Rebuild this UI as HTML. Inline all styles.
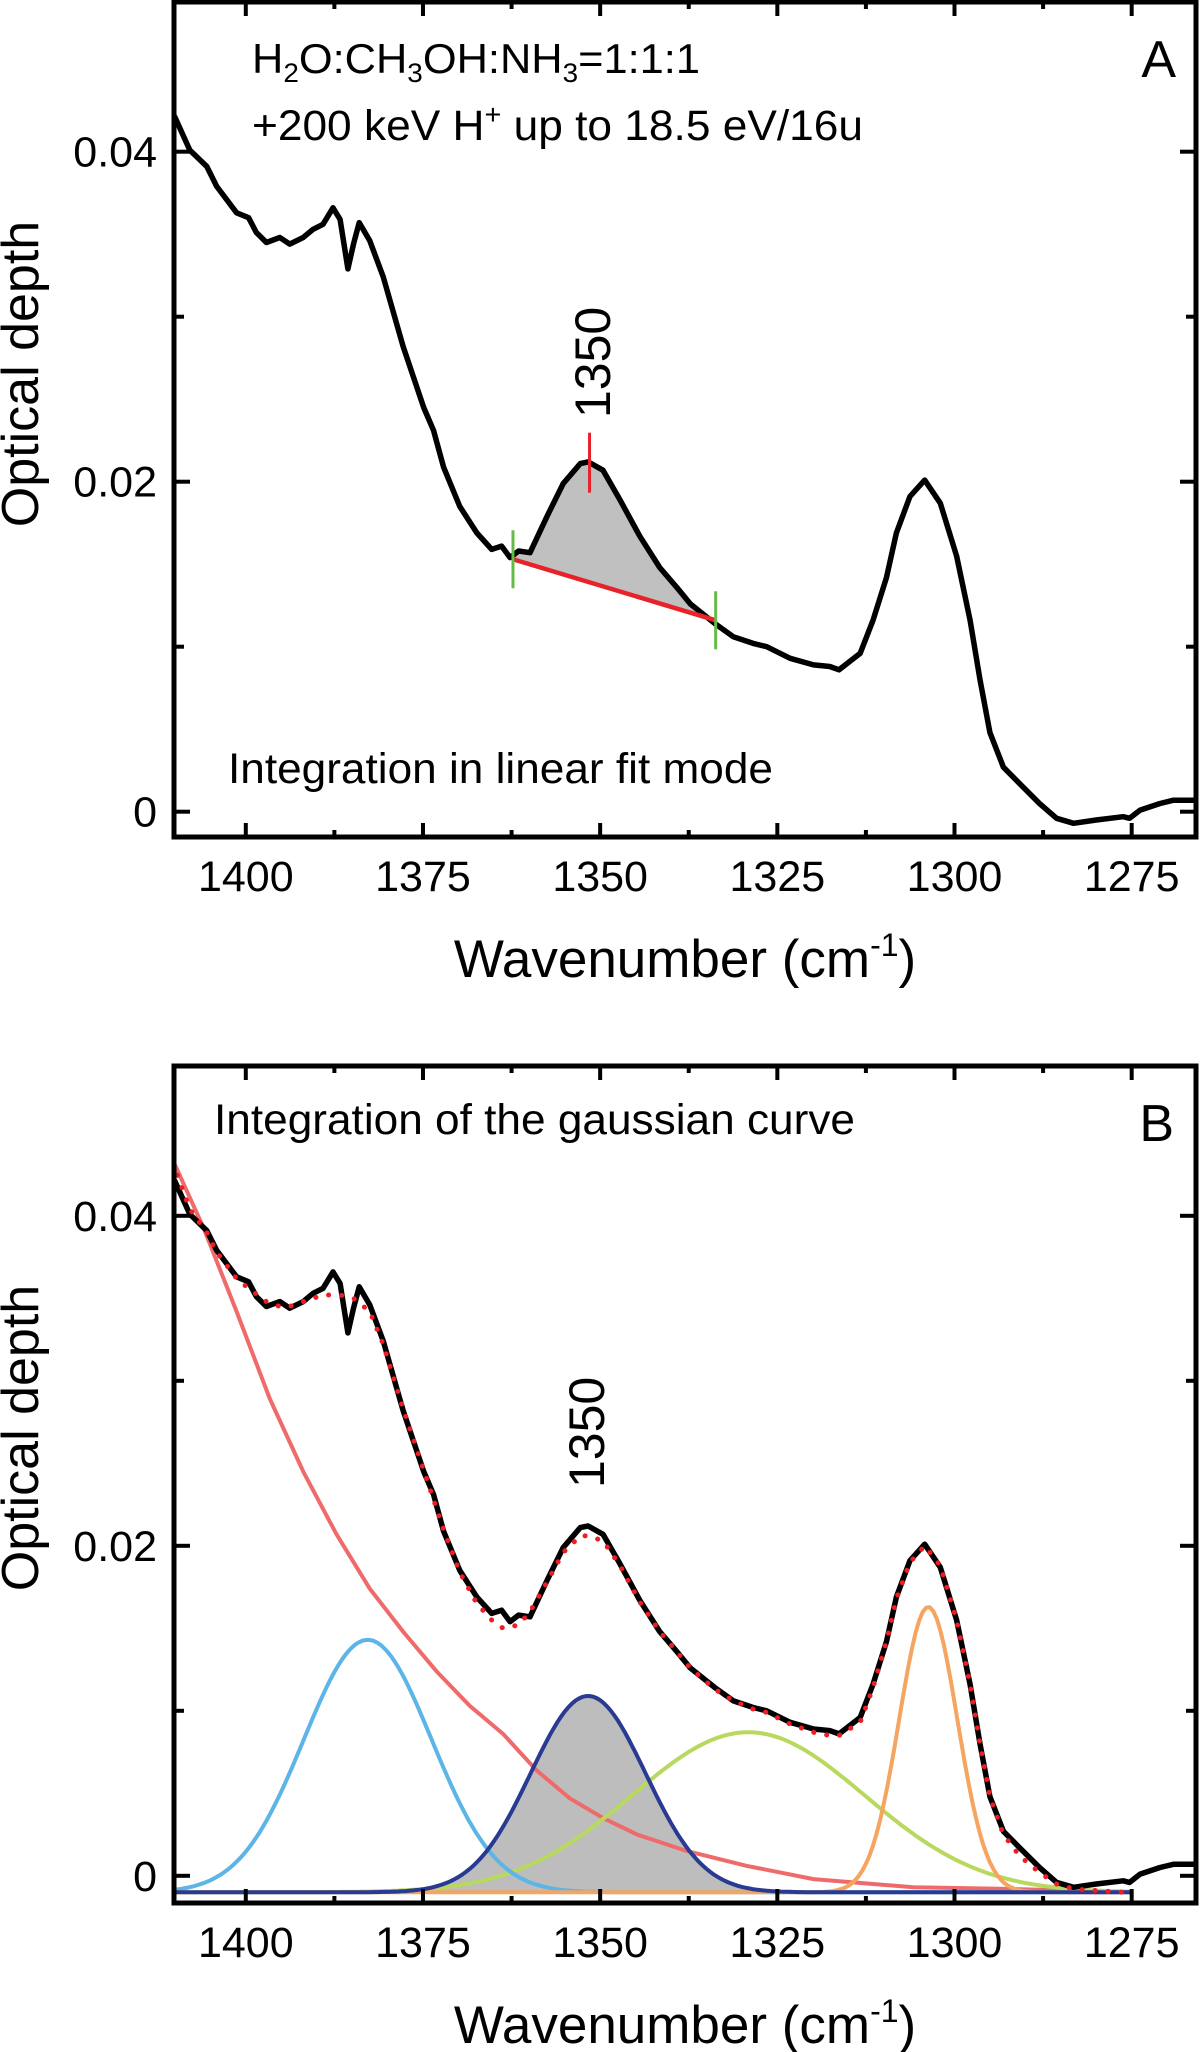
<!DOCTYPE html>
<html><head><meta charset="utf-8"><style>
html,body{margin:0;padding:0;background:#fff;}
svg{display:block;font-family:"Liberation Sans",Arial,sans-serif;}
</style></head><body>
<svg id="fig" width="1200" height="2052" viewBox="0 0 1200 2052" xmlns="http://www.w3.org/2000/svg">
<defs>
<clipPath id="clipA"><rect x="174" y="2" width="1022" height="835"/></clipPath>
<clipPath id="clipB"><rect x="174" y="1066" width="1022" height="837"/></clipPath>
</defs>
<g id="panelA"></g>
<g id="panelB"></g>
</svg>
<script>
// ---- data ----
const spectrumWn = [1410.3,1410.0,1407.9,1405.5,1404.1,1401.3,1399.6,1398.5,1397.1,1395.2,1393.8,1391.9,1390.5,1389.1,1387.7,1386.7,1385.6,1384.8,1384.0,1382.5,1380.6,1377.8,1374.9,1373.5,1372.1,1369.8,1367.4,1365.3,1363.9,1362.7,1361.5,1359.9,1357.5,1355.2,1352.8,1351.7,1349.6,1347.2,1344.4,1341.6,1339.2,1337.3,1333.8,1331.2,1328.4,1326.5,1323.2,1319.9,1317.6,1316.3,1313.3,1311.5,1309.6,1308.2,1306.3,1304.2,1302.0,1299.7,1297.8,1296.4,1295.0,1293.1,1290.8,1288.0,1285.6,1283.2,1280.0,1276.2,1275.3,1273.8,1271.0,1269.1,1266.3,1265.6];
const spectrumOD = [0.0423,0.0421,0.0401,0.0391,0.0379,0.0363,0.0360,0.0351,0.0345,0.0348,0.0344,0.0348,0.0353,0.0356,0.0366,0.0359,0.0329,0.0344,0.0357,0.0346,0.0324,0.0282,0.0245,0.0231,0.0209,0.0185,0.0169,0.0159,0.0161,0.0154,0.0158,0.0157,0.0179,0.0199,0.0211,0.0212,0.0207,0.0189,0.0167,0.0148,0.0136,0.0126,0.0114,0.0106,0.0102,0.0100,0.0093,0.0089,0.0088,0.0086,0.0096,0.0116,0.0142,0.0169,0.0191,0.0201,0.0187,0.0155,0.0116,0.0080,0.0048,0.0027,0.0017,0.0005,-0.0004,-0.0007,-0.0005,-0.0003,-0.0004,0.0001,0.0005,0.0007,0.0007,0.0007];
const fitWn = [1410.3,1407.9,1405.5,1404.1,1401.3,1399.6,1397.1,1395.2,1393.8,1391.9,1389.1,1386.7,1384.8,1382.5,1380.6,1377.8,1374.9,1372.1,1369.8,1367.4,1365.3,1363.7,1361.5,1359.9,1357.5,1355.2,1352.8,1351.7,1349.6,1347.2,1344.4,1341.6,1339.2,1337.3,1333.8,1331.2,1328.4,1326.5,1323.2,1319.9,1317.6,1316.3,1313.3,1311.5,1309.6,1308.2,1306.3,1304.2,1302.0,1299.7,1297.8,1296.4,1295.0,1293.1,1290.8,1288.0,1285.6,1283.2,1280.0,1276.2,1275.0];
const fitOD = [0.0432,0.0404,0.0390,0.0378,0.0362,0.0356,0.0348,0.0345,0.0345,0.0348,0.0352,0.0352,0.0350,0.0342,0.0322,0.0283,0.0246,0.0210,0.0184,0.0165,0.0155,0.0150,0.0152,0.0160,0.0178,0.0196,0.0206,0.0206,0.0203,0.0188,0.0166,0.0148,0.0136,0.0126,0.0113,0.0106,0.0101,0.0099,0.0092,0.0087,0.0085,0.0085,0.0093,0.0114,0.0142,0.0168,0.0190,0.0200,0.0188,0.0155,0.0116,0.0080,0.0048,0.0025,0.0012,0.0002,-0.0005,-0.0008,-0.0009,-0.0010,-0.0010];
const baselineWn = [1410.0,1406.0,1401.3,1396.6,1391.9,1387.2,1382.5,1377.8,1373.1,1368.4,1363.7,1359.0,1354.3,1349.6,1344.8,1337.8,1329.3,1319.9,1305.8,1291.7,1274.8];
const baselineOD = [0.0431,0.0393,0.0342,0.0289,0.0245,0.0207,0.0174,0.0148,0.0124,0.0103,0.0086,0.0064,0.0047,0.0035,0.0025,0.0015,0.0006,-0.0002,-0.0007,-0.0008,-0.0010];
const gaussCenters = [1382.8,1351.7,1329.1,1303.7];
const gaussHeights = [0.0153,0.0119,0.0097,0.0173];
const gaussSigmas = [9.0,8.1,16.4,4.1];
const gaussColors = ["#5cb5e6","#283a92","#b8d95e","#f5a560"];
const gaussNames = ["gaussian-1383","gaussian-1350","gaussian-1329","gaussian-1304"];
const gaussOffset = -0.001;
const linearFitWn = [1362.3,1333.7];
const linearFitOD = [0.0153,0.0116];
const peakMarkWn = 1351.5;
const xTicks = [1400,1375,1350,1325,1300,1275];
const xMinor = [1387.5,1362.5,1337.5,1312.5,1287.5];
const yTicks = [0,0.02,0.04];
const yTickLabels = ["0","0.02","0.04"];
const yMinor = [0.01,0.03];

// ---- axes ----
const NS="http://www.w3.org/2000/svg";
const X0=174,X1=1196;
function xs(w){return 245.8+(1400-w)*7.087;}
function mk(parent,tag,attrs){const e=document.createElementNS(NS,tag);for(const k in attrs)e.setAttribute(k,attrs[k]);parent.appendChild(e);return e;}
function interp(wArr,vArr,w){for(let i=0;i<wArr.length-1;i++){if(w<=wArr[i]&&w>=wArr[i+1]){const t=(wArr[i]-w)/(wArr[i]-wArr[i+1]);return vArr[i]+t*(vArr[i+1]-vArr[i]);}}return w>wArr[0]?vArr[0]:vArr[vArr.length-1];}
function gauss(i,w){return gaussHeights[i]*Math.exp(-Math.pow(w-gaussCenters[i],2)/(2*gaussSigmas[i]*gaussSigmas[i]));}

function drawAxes(g,top,bot,zeroY){
  const ys=v=>zeroY-v*16500;
  xTicks.forEach((t,i)=>{
    let l=mk(g,'line',{x1:xs(t),x2:xs(t),y1:bot,y2:bot-14,stroke:'#000','stroke-width':4});
    
    l=mk(g,'line',{x1:xs(t),x2:xs(t),y1:top,y2:top+14,stroke:'#000','stroke-width':4});
    
    const tx=mk(g,'text',{x:xs(t),y:bot+54,'font-size':43,'text-anchor':'middle'});
    tx.textContent=t;
    
  });
  xMinor.forEach(t=>{
    let l=mk(g,'line',{x1:xs(t),x2:xs(t),y1:bot,y2:bot-7,stroke:'#000','stroke-width':4});
    
    l=mk(g,'line',{x1:xs(t),x2:xs(t),y1:top,y2:top+7,stroke:'#000','stroke-width':4});
    
  });
  yTicks.forEach((t,i)=>{
    let l=mk(g,'line',{x1:X0,x2:X0+16,y1:ys(t),y2:ys(t),stroke:'#000','stroke-width':4});
    
    l=mk(g,'line',{x1:X1,x2:X1-16,y1:ys(t),y2:ys(t),stroke:'#000','stroke-width':4});
    
    const tx=mk(g,'text',{x:157,y:ys(t)+15,'font-size':43,'text-anchor':'end'});
    tx.textContent=yTickLabels[i];
    
  });
  yMinor.forEach(t=>{
    let l=mk(g,'line',{x1:X0,x2:X0+10,y1:ys(t),y2:ys(t),stroke:'#000','stroke-width':4});
    
    l=mk(g,'line',{x1:X1,x2:X1-10,y1:ys(t),y2:ys(t),stroke:'#000','stroke-width':4});
    
  });
  const fr=mk(g,'rect',{x:X0,y:top,width:X1-X0,height:bot-top,fill:'none',stroke:'#000','stroke-width':5});
  
  const xl=mk(g,'text',{x:685,y:bot+140,'font-size':53,'text-anchor':'middle'});
  xl.innerHTML='Wavenumber (cm<tspan dy="-21" font-size="32">-1</tspan><tspan dy="21">)</tspan>';
  
  const cy=top+372;
  const yl=mk(g,'text',{x:0,y:0,'font-size':52,'text-anchor':'middle',transform:`translate(38,${cy}) rotate(-90)`});
  yl.textContent='Optical depth';
  
  return ys;
}
function pathFrom(ws,vs,ys){return ws.map((w,i)=>(i?'L':'M')+xs(w).toFixed(1)+','+ys(vs[i]).toFixed(1)).join(' ');}

// ---- Panel A ----
(function(){
  const g=document.getElementById('panelA');
  const top=2,bot=837,zeroY=811.7;
  const ys=v=>zeroY-v*16500;
  const pg=mk(g,'g',{'clip-path':'url(#clipA)'});
  
  let pts=[];
  const w0=linearFitWn[0],w1=linearFitWn[1];
  pts.push([w0,interp(spectrumWn,spectrumOD,w0)]);
  spectrumWn.forEach((w,i)=>{if(w<w0&&w>w1)pts.push([w,spectrumOD[i]]);});
  pts.push([w1,interp(spectrumWn,spectrumOD,w1)]);
  let d=pts.map((p,i)=>(i?'L':'M')+xs(p[0])+','+ys(p[1])).join(' ')+` L${xs(w1)},${ys(linearFitOD[1])} L${xs(w0)},${ys(linearFitOD[0])} Z`;
  const fill=mk(pg,'path',{d:d,fill:'#c0c0c0'});
  
  const curve=mk(pg,'path',{d:pathFrom(spectrumWn,spectrumOD,ys),fill:'none',stroke:'#000','stroke-width':5.5,'stroke-linejoin':'round'});
  
  const lf=mk(pg,'line',{x1:xs(w0),y1:ys(linearFitOD[0]),x2:xs(w1),y2:ys(linearFitOD[1]),stroke:'#e8222a','stroke-width':4.5});
  
  linearFitWn.forEach((w,i)=>{
    const l=mk(pg,'line',{x1:xs(w),x2:xs(w),y1:ys(linearFitOD[i])-29,y2:ys(linearFitOD[i])+29,stroke:'#66bb44','stroke-width':3});
    
  });
  const pk=interp(spectrumWn,spectrumOD,peakMarkWn);
  const pm=mk(pg,'line',{x1:xs(peakMarkWn),x2:xs(peakMarkWn),y1:ys(pk)-30,y2:ys(pk)+30,stroke:'#e8222a','stroke-width':3});
  
  const pl=mk(g,'text',{x:0,y:0,'font-size':50,transform:`translate(610,418) rotate(-90)`});
  pl.textContent='1350';
  
  drawAxes(g,top,bot,zeroY);
  const t1=mk(g,'text',{x:252,y:73,'font-size':42,textLength:448,lengthAdjust:'spacingAndGlyphs'});
  t1.innerHTML='H<tspan dy="9" font-size="27">2</tspan><tspan dy="-9">O:CH</tspan><tspan dy="9" font-size="27">3</tspan><tspan dy="-9">OH:NH</tspan><tspan dy="9" font-size="27">3</tspan><tspan dy="-9">=1:1:1</tspan>';
  
  const t2=mk(g,'text',{x:252,y:140,'font-size':43,textLength:611,lengthAdjust:'spacingAndGlyphs'});
  t2.innerHTML='+200 keV H<tspan dy="-16" font-size="28">+</tspan><tspan dy="16"> up to 18.5 eV/16u</tspan>';
  
  const t3=mk(g,'text',{x:228,y:783,'font-size':43,textLength:545,lengthAdjust:'spacingAndGlyphs'});
  t3.textContent='Integration in linear fit mode';
  
  const la=mk(g,'text',{x:1176,y:77,'font-size':52,'text-anchor':'end'});
  la.textContent='A';
  
})();

// ---- Panel B ----
(function(){
  const g=document.getElementById('panelB');
  const top=1066,bot=1903,zeroY=1875.8;
  const ys=v=>zeroY-v*16500;
  const pg=mk(g,'g',{'clip-path':'url(#clipB)'});
  
  const wStart=1411,wEnd=1275;
  const grid=[];for(let w=wStart;w>=wEnd-0.01;w-=0.5)grid.push(w);
  let d='M'+xs(wStart)+','+ys(gaussOffset)+' '+grid.map(w=>'L'+xs(w).toFixed(1)+','+ys(gaussOffset+gauss(1,w)).toFixed(1)).join(' ')+' L'+xs(wEnd)+','+ys(gaussOffset)+' Z';
  const f=mk(pg,'path',{d:d,fill:'#bdbdbd'});
  
  const bl=mk(pg,'path',{d:pathFrom(baselineWn,baselineOD,ys),fill:'none',stroke:'#ef6a6a','stroke-width':4});
  
  [2,0,3,1].forEach(i=>{
    const p=mk(pg,'path',{d:grid.map((w,k)=>(k?'L':'M')+xs(w).toFixed(1)+','+ys(gaussOffset+gauss(i,w)).toFixed(1)).join(' '),fill:'none',stroke:gaussColors[i],'stroke-width':4});
    
  });
  const curve=mk(pg,'path',{d:pathFrom(spectrumWn,spectrumOD,ys),fill:'none',stroke:'#000','stroke-width':5.5,'stroke-linejoin':'round'});
  
  const fit=mk(pg,'path',{d:pathFrom(fitWn,fitOD,ys),fill:'none',stroke:'#ee1c24','stroke-width':5,'stroke-dasharray':'0.1 13','stroke-linecap':'round'});
  
  const pl=mk(g,'text',{x:0,y:0,'font-size':50,transform:`translate(604,1488) rotate(-90)`});
  pl.textContent='1350';
  
  drawAxes(g,top,bot,zeroY);
  const t=mk(g,'text',{x:214,y:1134,'font-size':43,textLength:641,lengthAdjust:'spacingAndGlyphs'});
  t.textContent='Integration of the gaussian curve';
  
  const lb=mk(g,'text',{x:1174,y:1141,'font-size':52,'text-anchor':'end'});
  lb.textContent='B';
  
})();
</script>
</body></html>
